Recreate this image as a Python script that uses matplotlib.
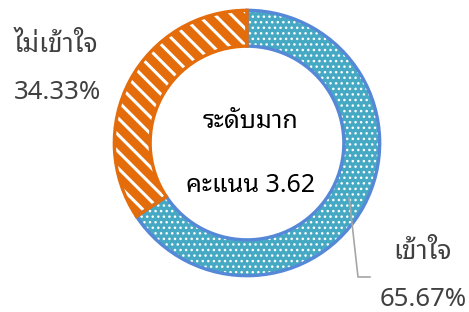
import matplotlib
matplotlib.use('Agg')
import matplotlib.pyplot as plt
import numpy as np

plt.rcParams['font.family'] = ['Noto Sans Thai Looped', 'Noto Sans', 'DejaVu Sans']

labels = ['เข้าใจ', 'ไม่เข้าใจ']
values = [65.67, 34.33]
center_title = 'ระดับมาก'
center_score = 'คะแนน 3.62'

face_colors = ['#45a9c4', '#e46c0a']
edge_colors = ['#5588d6', '#e46c0a']
hatches = ['...', '\\\\']
hatch_lw = [1.0, 2.2]

W, H = 469, 312
fig = plt.figure(figsize=(W / 100, H / 100), dpi=100)

# donut: centre (247, 143) px, radius 134 px
cx, cy, r = 247, 143, 134
ax = fig.add_axes([(cx - r) / W, (H - cy - r) / H, 2 * r / W, 2 * r / H])

ring = 0.27
# hatch layer (white pattern on the fill colour)
wedges, _ = ax.pie(values, startangle=90, counterclock=False, radius=1,
                   colors=face_colors,
                   wedgeprops=dict(width=ring, edgecolor='white', linewidth=0))
for w, h, lw in zip(wedges, hatches, hatch_lw):
    w.set_hatch(h)
    if hasattr(w, 'set_hatch_linewidth'):
        w.set_hatch_linewidth(lw)
# outline layer
outl, _ = ax.pie(values, startangle=90, counterclock=False, radius=1,
                 wedgeprops=dict(width=ring, fill=False, linewidth=2.4))
for w, ec in zip(outl, edge_colors):
    w.set_edgecolor(ec)
    w.set_fill(False)
ax.set_xlim(-1.01, 1.01)
ax.set_ylim(-1.01, 1.01)
ax.axis('off')


def px(x, y):
    return x / W, 1 - y / H


# centre text
fig.text(*px(250, 122), center_title, ha='center', va='center',
         fontsize=18, fontweight='bold', color='black')
fig.text(*px(250, 185), center_score, ha='center', va='center',
         fontsize=18, fontweight='bold', color='black')

# labels
pcts = ['%.2f%%' % v for v in values]
fig.text(*px(14, 45), labels[1], ha='left', va='center', fontsize=19, color='#404040')
fig.text(*px(14, 92), pcts[1], ha='left', va='center', fontsize=18.5, color='#404040')
fig.text(*px(422, 252), labels[0], ha='center', va='center', fontsize=19, color='#404040')
fig.text(*px(423, 299), pcts[0], ha='center', va='center', fontsize=18.5, color='#404040')

# leader line from middle of the blue slice
mid = np.deg2rad(90 - values[0] / sum(values) * 360 / 2)
rm = 1 - ring / 2
x0, y0 = rm * np.cos(mid), rm * np.sin(mid)
x0p = cx + x0 * r
y0p = cy - y0 * r
fig.add_artist(plt.Line2D([x0p / W, 358 / W, 370 / W],
                          [1 - y0p / H, 1 - 277 / H, 1 - 277 / H],
                          color='#a6a6a6', linewidth=1.2))

fig.savefig('out.png', dpi=100)
